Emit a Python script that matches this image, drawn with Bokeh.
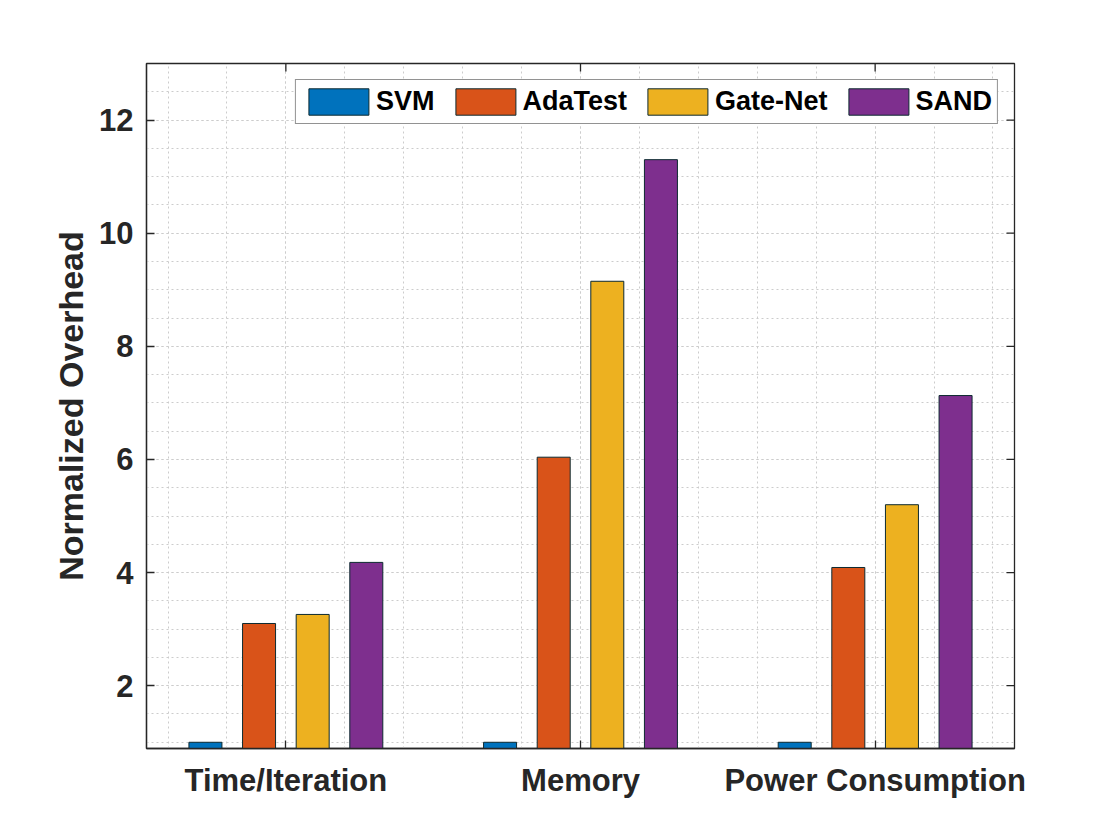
from bokeh.plotting import figure
from bokeh.models import ColumnDataSource, FixedTicker, Range1d
from bokeh.transform import dodge
from bokeh.embed import file_html
from bokeh.resources import INLINE

categories = ["Time/Iteration", "Memory", "Power Consumption"]
series = ["SVM", "AdaTest", "Gate-Net", "SAND"]
svm = [1.0, 1.0, 1.0]
adatest = [3.10, 6.04, 4.09]
gatenet = [3.26, 9.15, 5.20]
sand = [4.18, 11.30, 7.13]
y_ticks = [2, 4, 6, 8, 10, 12]

colors = ["#0072BD", "#D95319", "#EDB120", "#7E2F8E"]
offsets = [-0.273, -0.091, 0.091, 0.273]
values = [svm, adatest, gatenet, sand]

FONT = "Liberation Sans"
TXT = "#262626"

X0, X1 = 0.527, 3.473
Y0, Y1 = 0.89, 13.0
FW, FH = 868, 685

xpos = list(range(1, len(categories) + 1))
data = {"x": xpos}
for name, vals in zip(series, values):
    data[name] = vals
src = ColumnDataSource(data)

p = figure(frame_width=FW, frame_height=FH,
           min_border_left=146, min_border_top=63, min_border_right=80, min_border_bottom=80,
           x_range=Range1d(X0, X1), y_range=Range1d(Y0, Y1),
           output_backend="svg", toolbar_location=None,
           background_fill_color="white", border_fill_color="white")

for name, col, off in zip(series, colors, offsets):
    p.vbar(x=dodge("x", off), top=name, bottom=0, width=0.112, source=src,
           fill_color=col, line_color="#0d2a30", line_width=1.0, legend_label=name)

xt = FixedTicker(ticks=xpos, minor_ticks=[round(0.6 + 0.2 * i, 2) for i in range(15)])
yt = FixedTicker(ticks=y_ticks, minor_ticks=[1 + 0.5 * i for i in range(25)])
p.xaxis.ticker = xt
p.yaxis.ticker = yt
p.xaxis.major_label_overrides = {i + 1: c for i, c in enumerate(categories)}

for ax in (p.xaxis[0], p.yaxis[0]):
    ax.axis_line_color = TXT
    ax.axis_line_width = 1.3
    ax.major_tick_line_color = TXT
    ax.major_tick_line_width = 1.3
    ax.major_tick_in = 8
    ax.major_tick_out = 0
    ax.minor_tick_line_color = None
    ax.major_label_text_font = FONT
    ax.major_label_text_font_style = "bold"
    ax.major_label_text_font_size = "31px"
    ax.major_label_text_color = TXT

p.yaxis.major_label_standoff = 9
p.xaxis.major_label_standoff = 10
p.yaxis.axis_label = "Normalized Overhead"
p.yaxis.axis_label_text_font = FONT
p.yaxis.axis_label_text_font_style = "bold"
p.yaxis.axis_label_text_font_size = "34px"
p.yaxis.axis_label_text_color = TXT
p.yaxis.axis_label_standoff = 6

# box outline and mirrored inward ticks on top and right
p.outline_line_color = TXT
p.outline_line_width = 1.3
tick_len_y = 8 * (Y1 - Y0) / FH
tick_len_x = 8 * (X1 - X0) / FW
p.segment(x0=xpos, y0=[Y1] * len(xpos), x1=xpos, y1=[Y1 - tick_len_y] * len(xpos),
          line_color=TXT, line_width=1.3)
p.segment(x0=[X1] * len(y_ticks), y0=y_ticks, x1=[X1 - tick_len_x] * len(y_ticks), y1=y_ticks,
          line_color=TXT, line_width=1.3)

for g in (p.xgrid[0], p.ygrid[0]):
    g.grid_line_color = "#cccccc"
    g.grid_line_dash = "2 3"
    g.grid_line_width = 1
    g.minor_grid_line_color = "#cccccc"
    g.minor_grid_line_dash = "2 3"
    g.minor_grid_line_width = 1

lg = p.legend[0]
lg.orientation = "horizontal"
lg.location = "top_right"
lg.margin = 16
lg.padding = 5
lg.spacing = 13
lg.glyph_width = 75
lg.glyph_height = 33
lg.label_standoff = 0
lg.label_text_font = FONT
lg.label_text_font_style = "bold"
lg.label_text_font_size = "27px"
lg.label_text_color = "black"
lg.border_line_color = TXT
lg.border_line_width = 1.3
lg.background_fill_alpha = 1.0

open("out.html", "w").write(file_html(p, INLINE))
